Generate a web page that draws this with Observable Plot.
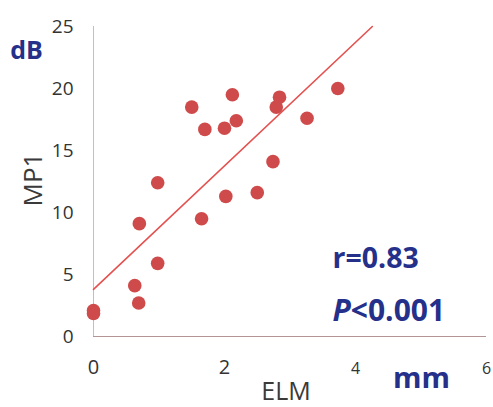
<!DOCTYPE html>
<html>
<head>
<meta charset="utf-8">
<script src="https://cdn.jsdelivr.net/npm/d3@7"></script>
<script src="https://cdn.jsdelivr.net/npm/@observablehq/plot@0.6"></script>
<style>
  html, body { margin: 0; padding: 0; background: #fff; }
  #chart { width: 493px; height: 407px; }
</style>
</head>
<body>
<div id="chart"></div>
<script>
// ELM width (mm) for each eye
const elm = [0, 0, 0.63, 0.69, 0.70, 0.98, 0.98, 1.50, 1.70, 1.65, 2.00, 2.02, 2.12, 2.18, 2.50, 2.74, 2.79, 2.84, 3.26, 3.73];
// MP1 sensitivity (dB)
const mp1 = [2.1, 1.85, 4.1, 2.7, 9.1, 5.9, 12.4, 18.5, 16.7, 9.5, 16.8, 11.3, 19.5, 17.4, 11.6, 14.1, 18.5, 19.3, 17.6, 20.0];
// fitted regression line
const fitIntercept = 3.8;
const fitSlope = 4.98;
// axis ticks
const xTicks = [0, 2, 4, 6];
const yTicks = [0, 5, 10, 15, 20, 25];
const xDomain = [0, 6];
const yDomain = [0, 25];
const annotR = "r=0.83";
const annotP = "P<0.001";

const points = elm.map((x, i) => ({x, y: mp1[i]}));
const xEnd = (yDomain[1] - fitIntercept) / fitSlope;
const fitLine = [0, xEnd].map(x => ({x, y: fitIntercept + fitSlope * x}));

const navy = "#25308a";

const chart = Plot.plot({
  width: 493,
  height: 407,
  marginLeft: 93,
  marginRight: 7,
  marginTop: 26,
  marginBottom: 71,
  style: {fontFamily: "'Open Sans', sans-serif", background: "#fff", color: "#333"},
  x: {domain: xDomain, axis: null},
  y: {domain: yDomain, axis: null},
  marks: [
    Plot.axisY({ticks: yTicks, tickSize: 0, tickPadding: 20, fontSize: 19, label: null, fill: "#333"}),
    Plot.ruleX([0], {stroke: "#cdb8c6", strokeWidth: 1}),
    Plot.ruleY([0], {stroke: "#b39595", strokeWidth: 1}),
    Plot.text(xTicks, {x: d => d, frameAnchor: "bottom", dy: 37, lineAnchor: "bottom",
      text: d => String(d), fontSize: d => (d < 3 ? 20 : 16), fill: "#333"}),
    Plot.line(fitLine, {x: "x", y: "y", stroke: "#e4514f", strokeWidth: 1.6}),
    Plot.dot(points, {x: "x", y: "y", r: 6.8, fill: "#cf4b4b", stroke: "none"}),
    // axis titles
    Plot.text(["MP1"], {frameAnchor: "left", dx: -60, dy: -2, rotate: -90, fontSize: 26, fill: "#3a3a3a",
      textAnchor: "middle", lineAnchor: "middle"}),
    Plot.text(["ELM"], {frameAnchor: "bottom", dx: -4, dy: 63, fontSize: 25, fill: "#3a3a3a",
      textAnchor: "middle", lineAnchor: "bottom"}),
    Plot.text(["dB"], {frameAnchor: "top-left", dx: -67, dy: 32, fontSize: 25, fontWeight: "bold", fill: navy,
      textAnchor: "middle", lineAnchor: "bottom"}),
    Plot.text(["mm"], {frameAnchor: "bottom", dx: 131.5, dy: 51, fontSize: 29, fontWeight: "bold", fill: navy,
      textAnchor: "middle", lineAnchor: "bottom"}),
    Plot.text([annotR], {frameAnchor: "bottom-left", dx: 239, dy: -69, fontSize: 28.5, fontWeight: "bold", fill: navy,
      textAnchor: "start", lineAnchor: "bottom"}),
    Plot.text([annotP], {frameAnchor: "bottom-left", dx: 239, dy: -15.5, fontSize: 30, fontWeight: "bold", fill: navy,
      textAnchor: "start", lineAnchor: "bottom", className: "pval"})
  ]
});

document.getElementById("chart").appendChild(chart);

// italicise the "P"
d3.select(chart).selectAll(".pval text").each(function() {
  const t = this.textContent;
  if (t.startsWith("P")) {
    const el = d3.select(this);
    el.text(null);
    el.append("tspan").attr("font-style", "italic").text("P");
    el.append("tspan").text(t.slice(1));
  }
});
</script>
</body>
</html>
